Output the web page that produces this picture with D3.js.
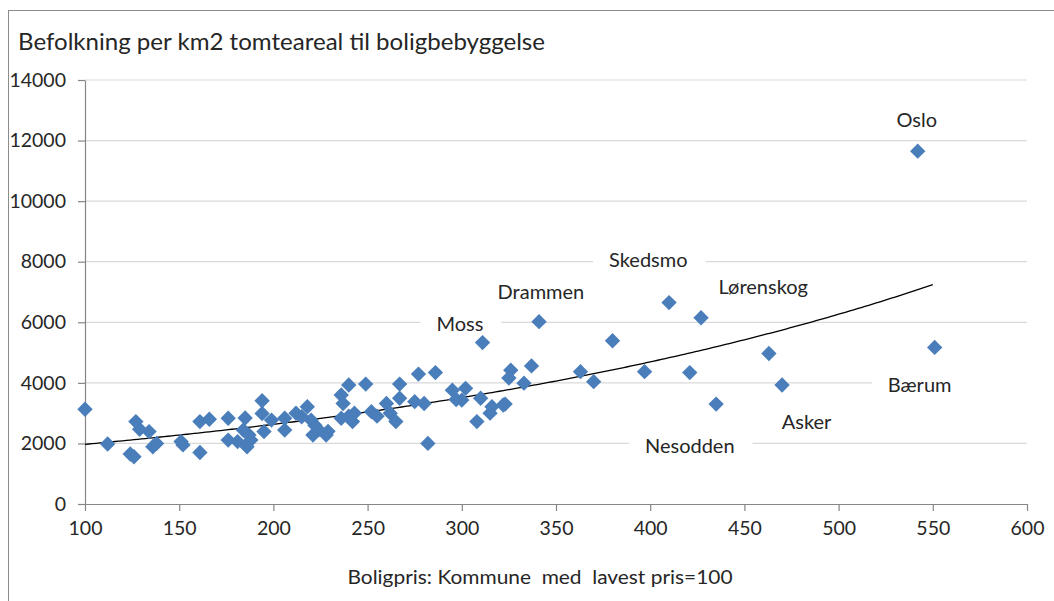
<!DOCTYPE html>
<html>
<head>
<meta charset="utf-8">
<script src="https://cdn.jsdelivr.net/npm/d3@7"></script>
<style>
  body { margin: 0; background: #fff; }
  text { font-family: Lato, "Open Sans", sans-serif; fill: #262626; }
</style>
</head>
<body>
<div id="chart"></div>
<script>
// Boligpris (index, lowest = 100) per kommune
var boligpris = [100, 112, 124, 126, 127, 129, 134, 136, 138, 151, 152, 161, 161, 166, 176, 176,
  181, 185, 184, 187, 186, 188, 194, 194, 195, 199, 206, 206, 212, 215, 218, 220,
  221, 222, 224, 228, 229, 236, 237, 236, 240, 240, 242, 243, 249, 252, 255, 260,
  262, 265, 267, 267, 275, 277, 280, 282, 286, 295, 297, 300, 302, 308, 310, 311,
  315, 316, 322, 323, 325, 326, 333, 337, 341, 363, 370, 380, 397, 410, 421, 427,
  435, 463, 470, 542, 551];
// Befolkning per km2 tomteareal til boligbebyggelse
var befolkning = [3130, 1980, 1650, 1560, 2720, 2470, 2390, 1890, 2000, 2060, 1950, 1700, 2720, 2800, 2830, 2110,
  2060, 2840, 2440, 2280, 1890, 2110, 3410, 2990, 2390, 2770, 2830, 2440, 3000, 2880, 3210, 2770,
  2280, 2600, 2450, 2280, 2400, 3600, 3320, 2830, 3930, 2900, 2720, 3000, 3960, 3050, 2900, 3320,
  3000, 2720, 3960, 3490, 3380, 4290, 3320, 2000, 4340, 3760, 3450, 3430, 3820, 2720, 3490, 5330,
  3000, 3210, 3270, 3300, 4160, 4420, 3990, 4560, 6020, 4370, 4040, 5390, 4370, 6650, 4340, 6150,
  3300, 4970, 3930, 11650, 5170];

// Navngitte kommuner og hvor etiketten står (i dataverdier)
var labelNames = ["Oslo", "Skedsmo", "Lørenskog", "Drammen", "Moss", "Bærum", "Asker", "Nesodden"];
var labelX = [541.5, 399, 460, 342, 299, 543, 483, 421];
var labelY = [12680, 8060, 7175, 7010, 5945, 3930, 2720, 1915];

var yTicks = [0, 2000, 4000, 6000, 8000, 10000, 12000, 14000];
var xTicks = [100, 150, 200, 250, 300, 350, 400, 450, 500, 550, 600];

var W = 1054, H = 601;
var plot = {left: 85, right: 1027, top: 80, bottom: 504};

var svg = d3.select("#chart").append("svg")
  .attr("width", W)
  .attr("height", H);

svg.append("rect")
  .attr("x", 8.5).attr("y", 10.5)
  .attr("width", 1100).attr("height", 700)
  .style("fill", "#fff")
  .style("stroke", "#8c8c8c");

var xScale = d3.scaleLinear().domain([100, 600]).range([plot.left, plot.right]);
var yScale = d3.scaleLinear().domain([0, 14000]).range([plot.bottom, plot.top]);

// title
svg.append("text")
  .attr("x", 18)
  .attr("y", 50)
  .attr("textLength", 527)
  .attr("lengthAdjust", "spacingAndGlyphs")
  .style("font-size", "24px")
  .text("Befolkning per km2 tomteareal til boligbebyggelse");

// gridlines
svg.append("g")
  .selectAll("line")
  .data(yTicks.filter(function(d) { return d > 0; }))
  .enter().append("line")
  .attr("x1", plot.left).attr("x2", plot.right)
  .attr("y1", function(d) { return yScale(d); })
  .attr("y2", function(d) { return yScale(d); })
  .style("stroke", "#d9d9d9")
  .style("stroke-width", 1.2);

var yAxis = svg.append("g")
  .attr("transform", "translate(" + plot.left + ",0)")
  .call(d3.axisLeft(yScale).tickValues(yTicks).tickFormat(d3.format("d"))
    .tickSize(7).tickPadding(12).tickSizeOuter(0));
var xAxis = svg.append("g")
  .attr("transform", "translate(0," + plot.bottom + ")")
  .call(d3.axisBottom(xScale).tickValues(xTicks).tickSize(7).tickPadding(10).tickSizeOuter(0));

[yAxis, xAxis].forEach(function(a) {
  a.select(".domain").style("stroke", "#868686").style("stroke-width", 1.2);
  a.selectAll(".tick line").style("stroke", "#868686").style("stroke-width", 1.2);
  a.selectAll("text")
    .style("font-family", "Lato, sans-serif")
    .style("font-size", "19.5px")
    .style("fill", "#262626");
});

// x axis title
svg.append("text")
  .attr("x", 540)
  .attr("y", 584)
  .attr("textLength", 385)
  .attr("lengthAdjust", "spacingAndGlyphs")
  .style("text-anchor", "middle")
  .style("font-size", "19.5px")
  .style("white-space", "pre")
  .text("Boligpris: Kommune  med  lavest pris=100");

// label boxes + text
var lab = svg.append("g")
  .selectAll("g")
  .data(labelNames)
  .enter().append("g")
  .attr("transform", function(d, i) {
    return "translate(" + xScale(labelX[i]) + "," + yScale(labelY[i]) + ")";
  });
var labText = lab.append("text")
  .attr("y", 7)
  .style("text-anchor", "middle")
  .style("font-size", "20px")
  .text(function(d) { return d; });
labText.each(function(d, i) {
  var bb = this.getBBox();
  var w = bb.width + 34;
  var cx = xScale(labelX[i]);
  // boxes near the right edge run out to the plot border
  if (cx + bb.x + w + 70 > plot.right) w = plot.right + 2 - (cx + bb.x - 16);
  d3.select(this.parentNode).insert("rect", "text")
    .attr("x", bb.x - 16).attr("y", bb.y - 2)
    .attr("width", w).attr("height", bb.height + 4)
    .style("fill", "#fff");
});

// exponential trendline, least squares on ln(y)
var n = boligpris.length;
var mx = d3.mean(boligpris);
var my = d3.mean(befolkning, function(d) { return Math.log(d); });
var sxy = 0, sxx = 0;
for (var i = 0; i < n; i++) {
  sxy += (boligpris[i] - mx) * (Math.log(befolkning[i]) - my);
  sxx += (boligpris[i] - mx) * (boligpris[i] - mx);
}
var b = sxy / sxx, a = Math.exp(my - b * mx);
var xs = d3.range(d3.min(boligpris), d3.max(boligpris) + 0.1, 2);

svg.append("path")
  .datum(xs)
  .attr("d", d3.line()
    .x(function(d) { return xScale(d); })
    .y(function(d) { return yScale(a * Math.exp(b * d)); }))
  .style("fill", "none")
  .style("stroke", "#000")
  .style("stroke-width", 1.3);

// markers
svg.append("g")
  .selectAll("path")
  .data(boligpris)
  .enter().append("path")
  .attr("d", d3.symbol().type(d3.symbolSquare).size(118))
  .attr("transform", function(d, i) {
    return "translate(" + xScale(d) + "," + yScale(befolkning[i]) + ") rotate(45)";
  })
  .style("fill", "#4a7ebb");
</script>
</body>
</html>
